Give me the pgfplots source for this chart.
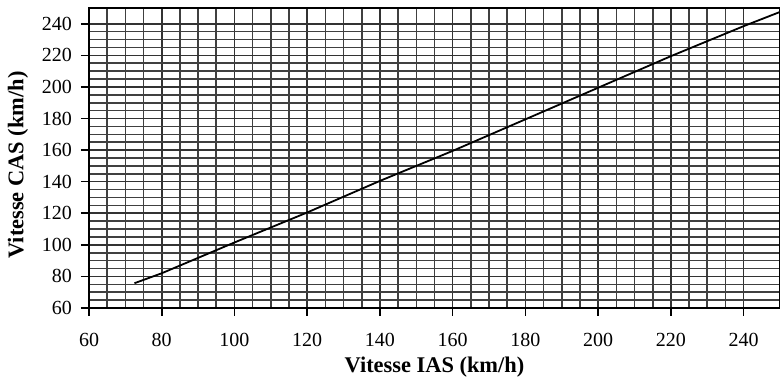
\documentclass[border=0pt]{standalone}
\usepackage{fontspec}
\setmainfont{Liberation Serif}
\usepackage{pgfplots}
\pgfplotsset{compat=1.18}
\begin{document}
\begin{tikzpicture}
\path[use as bounding box] (-44.5pt,-37.5pt) rectangle (345.5pt,154pt);
\begin{axis}[
  scale only axis,
  width=345.5pt, height=150pt,
  at={(0,0)}, anchor=south west,
  xmin=60, xmax=250, ymin=60, ymax=250,
  xtick={60,80,...,240}, ytick={60,80,...,240},
  xtick pos=bottom, ytick pos=left,
  minor tick num=3,
  grid=both,
  major grid style={black!80, line width=0.8pt},
  minor grid style={black!75, line width=0.8pt},
  tick align=outside,
  major tick length=4pt,
  minor tick length=0pt,
  tick style={black, line width=0.8pt},
  axis line style={black, line width=0.8pt},
  /pgf/number format/assume math mode=true,
  ticklabel style={font=\fontsize{10}{11}\selectfont},
  xticklabel style={yshift=-5pt},
  yticklabel style={xshift=-1pt},
  xlabel={Vitesse IAS (km/h)},
  ylabel={Vitesse CAS (km/h)},
  label style={font=\fontsize{11.2}{12}\selectfont\bfseries},
  xlabel style={at={(axis description cs:0.5,0)}, anchor=center, yshift=-29.5pt},
  ylabel style={at={(axis description cs:-0.1027,0.477)}, anchor=center},
]
\addplot[black, line width=0.9pt] coordinates {
(72.5,75.7) (80,82) (100,101.5) (120,120.5) (140,140.5) (160,159.5)
(180,179.5) (200,199.5) (220,219.5) (240,238.5) (250,247.5)};
\end{axis}
\end{tikzpicture}
\end{document}
